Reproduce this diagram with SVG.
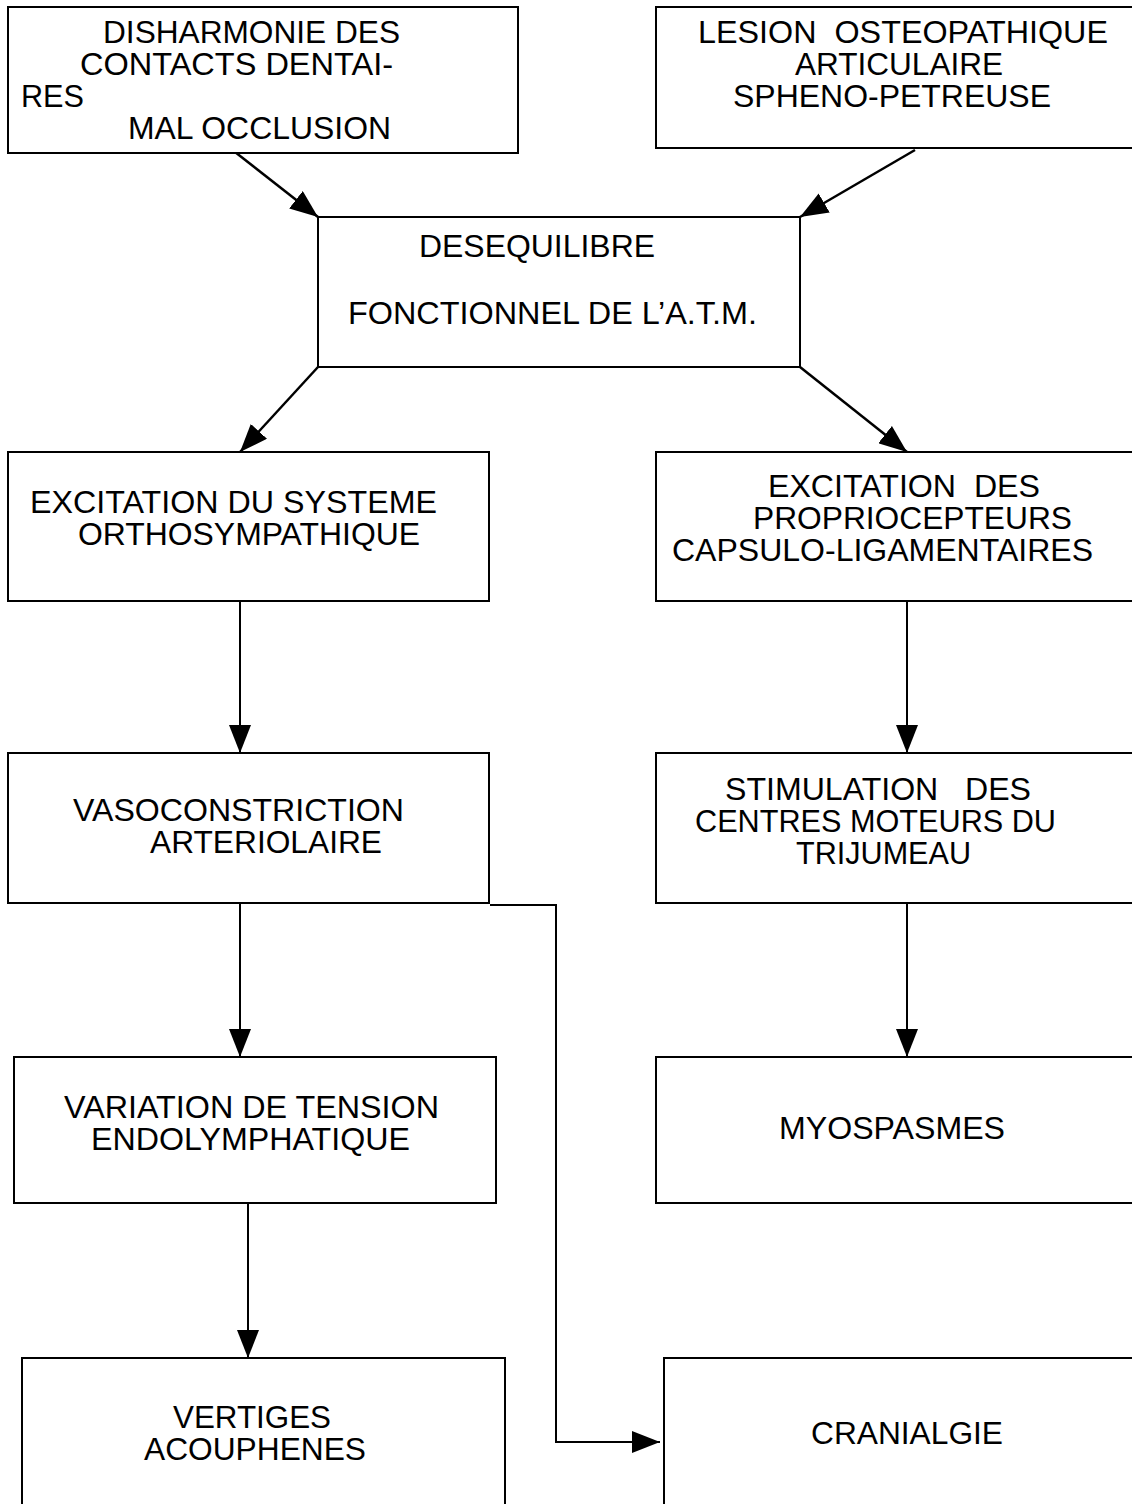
<svg xmlns="http://www.w3.org/2000/svg" width="1132" height="1504" viewBox="0 0 1132 1504">
  <style>
    .box { fill: #ffffff; stroke: #000000; stroke-width: 2; }
    .lbl { font-family: "Liberation Sans", Arial, Helvetica, sans-serif; font-size: 31px; fill: #000000; }
    .edge { fill: none; stroke: #000000; stroke-width: 2.5; }
    .edge-v { fill: none; stroke: #000000; stroke-width: 2; }
  </style>
  <defs>
    <marker id="arrow" markerUnits="userSpaceOnUse" markerWidth="30" markerHeight="22" refX="28" refY="11" orient="auto">
      <path d="M0,0 L28,11 L0,22 Z" fill="#000000"/>
    </marker>
  </defs>
  <rect width="1132" height="1504" fill="#ffffff"/>

  <!-- connectors -->
  <g id="connectors">
    <line class="edge" x1="235" y1="152" x2="318" y2="217" marker-end="url(#arrow)"/>
    <line class="edge" x1="915" y1="150" x2="800" y2="217" marker-end="url(#arrow)"/>
    <line class="edge" x1="318" y1="367" x2="240" y2="452" marker-end="url(#arrow)"/>
    <line class="edge" x1="800" y1="367" x2="907" y2="452" marker-end="url(#arrow)"/>
    <line class="edge-v" x1="240" y1="601" x2="240" y2="753" marker-end="url(#arrow)"/>
    <line class="edge-v" x1="907" y1="601" x2="907" y2="753" marker-end="url(#arrow)"/>
    <line class="edge-v" x1="240" y1="903" x2="240" y2="1057" marker-end="url(#arrow)"/>
    <line class="edge-v" x1="907" y1="903" x2="907" y2="1057" marker-end="url(#arrow)"/>
    <line class="edge-v" x1="248" y1="1203" x2="248" y2="1358" marker-end="url(#arrow)"/>
    <polyline class="edge-v" points="490,905 556,905 556,1442 660,1442" marker-end="url(#arrow)"/>
  </g>

  <g id="n-disharmonie">
    <rect class="box" x="8" y="7" width="510" height="146"/>
    <text class="lbl" x="103" y="43" textLength="297" lengthAdjust="spacingAndGlyphs">DISHARMONIE DES</text>
    <text class="lbl" x="80" y="75" textLength="313" lengthAdjust="spacingAndGlyphs">CONTACTS DENTAI-</text>
    <text class="lbl" x="21" y="107" textLength="63" lengthAdjust="spacingAndGlyphs">RES</text>
    <text class="lbl" x="128" y="139" textLength="263" lengthAdjust="spacingAndGlyphs">MAL OCCLUSION</text>
  </g>

  <g id="n-lesion">
    <rect class="box" x="656" y="7" width="480" height="141"/>
    <text class="lbl" x="698" y="43" textLength="410" lengthAdjust="spacingAndGlyphs" xml:space="preserve">LESION  OSTEOPATHIQUE</text>
    <text class="lbl" x="795" y="75" textLength="208" lengthAdjust="spacingAndGlyphs">ARTICULAIRE</text>
    <text class="lbl" x="733" y="107" textLength="318" lengthAdjust="spacingAndGlyphs">SPHENO-PETREUSE</text>
  </g>

  <g id="n-desequilibre">
    <rect class="box" x="318" y="217" width="482" height="150"/>
    <text class="lbl" x="419" y="257" textLength="236" lengthAdjust="spacingAndGlyphs">DESEQUILIBRE</text>
    <text class="lbl" x="348" y="324" textLength="409" lengthAdjust="spacingAndGlyphs">FONCTIONNEL DE L’A.T.M.</text>
  </g>

  <g id="n-orthosympathique">
    <rect class="box" x="8" y="452" width="481" height="149"/>
    <text class="lbl" x="30" y="513" textLength="407" lengthAdjust="spacingAndGlyphs">EXCITATION DU SYSTEME</text>
    <text class="lbl" x="78" y="545" textLength="342" lengthAdjust="spacingAndGlyphs">ORTHOSYMPATHIQUE</text>
  </g>

  <g id="n-proprio">
    <rect class="box" x="656" y="452" width="480" height="149"/>
    <text class="lbl" x="768" y="497" textLength="272" lengthAdjust="spacingAndGlyphs" xml:space="preserve">EXCITATION  DES</text>
    <text class="lbl" x="753" y="529" textLength="319" lengthAdjust="spacingAndGlyphs">PROPRIOCEPTEURS</text>
    <text class="lbl" x="672" y="561" textLength="421" lengthAdjust="spacingAndGlyphs">CAPSULO-LIGAMENTAIRES</text>
  </g>

  <g id="n-vasoconstriction">
    <rect class="box" x="8" y="753" width="481" height="150"/>
    <text class="lbl" x="73" y="821" textLength="331" lengthAdjust="spacingAndGlyphs">VASOCONSTRICTION</text>
    <text class="lbl" x="150" y="853" textLength="232" lengthAdjust="spacingAndGlyphs">ARTERIOLAIRE</text>
  </g>

  <g id="n-stimulation">
    <rect class="box" x="656" y="753" width="480" height="150"/>
    <text class="lbl" x="725" y="800" textLength="306" lengthAdjust="spacingAndGlyphs" xml:space="preserve">STIMULATION   DES</text>
    <text class="lbl" x="695" y="832" textLength="361" lengthAdjust="spacingAndGlyphs">CENTRES MOTEURS DU</text>
    <text class="lbl" x="796" y="864" textLength="175" lengthAdjust="spacingAndGlyphs">TRIJUMEAU</text>
  </g>

  <g id="n-variation">
    <rect class="box" x="14" y="1057" width="482" height="146"/>
    <text class="lbl" x="64" y="1118" textLength="375" lengthAdjust="spacingAndGlyphs">VARIATION DE TENSION</text>
    <text class="lbl" x="91" y="1150" textLength="319" lengthAdjust="spacingAndGlyphs">ENDOLYMPHATIQUE</text>
  </g>

  <g id="n-myospasmes">
    <rect class="box" x="656" y="1057" width="480" height="146"/>
    <text class="lbl" x="779" y="1139" textLength="226" lengthAdjust="spacingAndGlyphs">MYOSPASMES</text>
  </g>

  <g id="n-vertiges">
    <rect class="box" x="22" y="1358" width="483" height="160"/>
    <text class="lbl" x="173" y="1428" textLength="158" lengthAdjust="spacingAndGlyphs">VERTIGES</text>
    <text class="lbl" x="144" y="1460" textLength="222" lengthAdjust="spacingAndGlyphs">ACOUPHENES</text>
  </g>

  <g id="n-cranialgie">
    <rect class="box" x="664" y="1358" width="472" height="160"/>
    <text class="lbl" x="811" y="1444" textLength="192" lengthAdjust="spacingAndGlyphs">CRANIALGIE</text>
  </g>
</svg>
